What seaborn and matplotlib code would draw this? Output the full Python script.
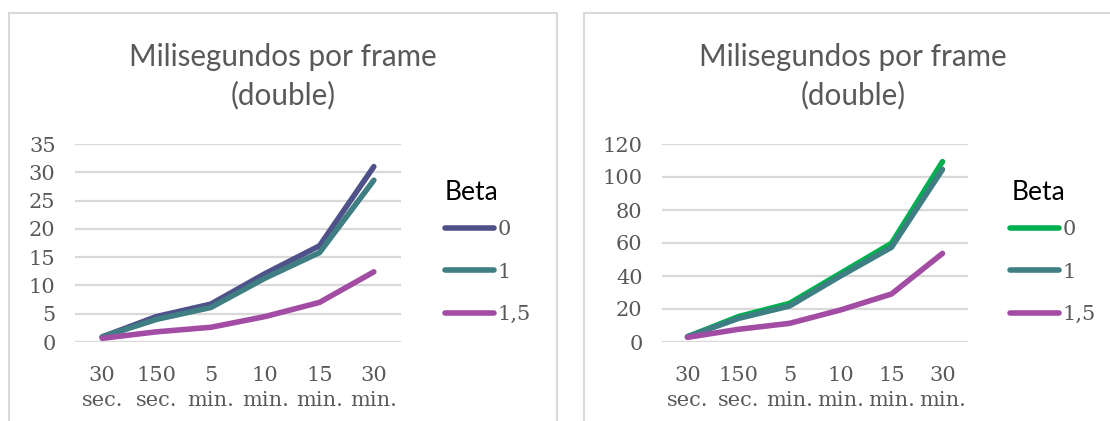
import numpy as np
import pandas as pd
import matplotlib
matplotlib.use("Agg")
import matplotlib.pyplot as plt
from matplotlib.patches import Rectangle
import seaborn as sns

# Categories along the x axis (simulation length)
periods = ["30\nsec.", "150\nsec.", "5\nmin.", "10\nmin.", "15\nmin.", "30\nmin."]
betas = ["0", "1", "1,5"]

# Milliseconds per frame, first chart
left_beta0 = [0.9, 4.5, 6.7, 12.1, 17.0, 31.0]
left_beta1 = [0.9, 4.0, 6.1, 11.3, 15.8, 28.6]
left_beta15 = [0.65, 1.8, 2.6, 4.5, 7.0, 12.4]

# Milliseconds per frame, second chart
right_beta0 = [3.2, 15.4, 23.4, 41.6, 59.8, 109.3]
right_beta1 = [3.2, 14.3, 21.8, 40.0, 57.4, 104.6]
right_beta15 = [2.8, 7.7, 11.3, 19.4, 29.1, 53.7]

left_colors = ["#4F5189", "#3F7E82", "#A24DA3"]
right_colors = ["#00B050", "#3F7E82", "#A24DA3"]


def long_frame(series):
    rows = []
    for beta, vals in zip(betas, series):
        for i, v in enumerate(vals):
            rows.append({"periodo": i, "ms": v, "Beta": beta})
    return pd.DataFrame(rows)


sns.set_theme(style="white")
plt.rcParams["font.family"] = ["DejaVu Serif"]

W, H = 1110, 421
fig = plt.figure(figsize=(W / 100, H / 100), dpi=100)

TICK_COLOR = "#595959"
GRID_COLOR = "#D9D9D9"
SERIF = "DejaVu Serif"
SANS = ["Lato", "DejaVu Sans"]
TICK_SIZE = 15


def px_axes(x0, x1, y_top, y_bot):
    return fig.add_axes([x0 / W, 1 - y_bot / H, (x1 - x0) / W, (y_bot - y_top) / H])


def draw_panel(ax, series, colors, ymax, step, legend_left, beta_left):
    df = long_frame(series)
    sns.lineplot(data=df, x="periodo", y="ms", hue="Beta", palette=colors,
                 linewidth=4.0, ax=ax, legend=True)
    for ln in ax.lines:
        ln.set_solid_capstyle("round")
        ln.set_solid_joinstyle("round")
    ax.set_xlim(-0.5, len(periods) - 0.5)
    ax.set_ylim(0, ymax)
    ax.set_yticks(np.arange(0, ymax + 1, step))
    ax.set_xticks(range(len(periods)))
    ax.set_xticklabels(periods, linespacing=1.45)
    ax.yaxis.grid(True, color=GRID_COLOR, linewidth=1.6)
    ax.xaxis.grid(False)
    ax.set_axisbelow(True)
    for s in ax.spines.values():
        s.set_visible(False)
    ax.set_xlabel("")
    ax.set_ylabel("")
    ax.tick_params(axis="y", length=0, pad=14, labelsize=TICK_SIZE,
                   labelcolor=TICK_COLOR, labelfontfamily=SERIF)
    ax.tick_params(axis="x", length=0, pad=17, labelsize=TICK_SIZE,
                   labelcolor=TICK_COLOR, labelfontfamily=SERIF)
    ax.patch.set_alpha(0)

    handles, labels = ax.get_legend_handles_labels()
    if ax.get_legend():
        ax.get_legend().remove()
    leg = fig.legend(handles, labels, frameon=False, loc="center left",
                     bbox_to_anchor=(legend_left / W, 1 - 272 / H),
                     bbox_transform=fig.transFigure,
                     borderpad=0, borderaxespad=0,
                     handlelength=2.37, handletextpad=0.18, labelspacing=1.12,
                     prop={"family": SERIF, "size": TICK_SIZE})
    for t in leg.get_texts():
        t.set_color(TICK_COLOR)
        t.set_fontfamily(SERIF)
    for h in leg.legend_handles:
        h.set_linewidth(4.0)
        h.set_solid_capstyle("round")
    fig.text(beta_left / W, 1 - 193 / H, "Beta", ha="left", va="center",
             fontsize=19, color="black", family=SANS)


# Chart frames
fig.patches.append(Rectangle((9 / W, -0.1), (557 - 9) / W, 1.1 - 13 / H,
                             transform=fig.transFigure, fill=False,
                             edgecolor=GRID_COLOR, linewidth=1.5))
fig.patches.append(Rectangle((584 / W, -0.1), (1125 - 584) / W, 1.1 - 13 / H,
                             transform=fig.transFigure, fill=False,
                             edgecolor=GRID_COLOR, linewidth=1.5))

ax1 = px_axes(75, 401, 144, 342)
draw_panel(ax1, [left_beta0, left_beta1, left_beta15], left_colors, 35, 5, 444.8, 445)

ax2 = px_axes(662, 968, 144, 342)
draw_panel(ax2, [right_beta0, right_beta1, right_beta15], right_colors, 120, 20, 1009.8, 1012)

for cx in (283, 853):
    fig.text(cx / W, 1 - 57 / H, "Milisegundos por frame", ha="center", va="center",
             fontsize=21.3, color=TICK_COLOR, family=SANS)
    fig.text(cx / W, 1 - 95 / H, "(double)", ha="center", va="center",
             fontsize=21.3, color=TICK_COLOR, family=SANS)

fig.savefig("out.png", dpi=100)
